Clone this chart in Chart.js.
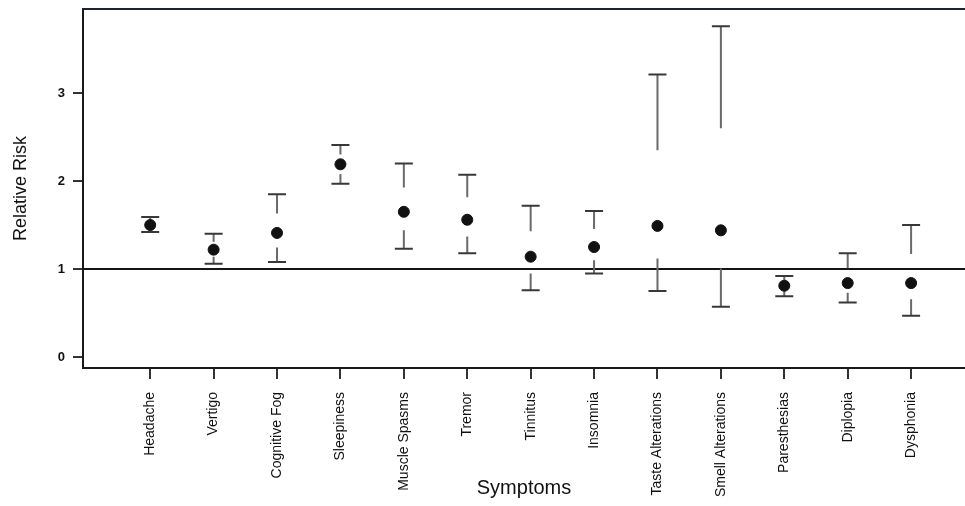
<!DOCTYPE html>
<html>
<head>
<meta charset="utf-8">
<script src="https://cdn.jsdelivr.net/npm/chart.js@4"></script>
<style>
  html, body { margin: 0; background: #fff; }
  #wrap { width: 965px; height: 506px; }
</style>
</head>
<body>
<div id="wrap"><canvas id="rr" width="965" height="506"></canvas></div>
<script>
// Relative risk per symptom, with 95% CI
const SYMPTOMS = ['Headache', 'Vertigo', 'Cognitive Fog', 'Sleepiness', 'Muscle Spasms', 'Tremor',
  'Tinnitus', 'Insomnia', 'Taste Alterations', 'Smell Alterations', 'Paresthesias', 'Diplopia', 'Dysphonia'];
const RR      = [1.50, 1.22, 1.41, 2.19, 1.65, 1.56, 1.14, 1.25, 1.49, 1.44, 0.81, 0.84, 0.84];
const CI_LOW  = [1.42, 1.06, 1.08, 1.97, 1.23, 1.18, 0.76, 0.95, 0.75, 0.57, 0.69, 0.62, 0.47];
const CI_HIGH = [1.59, 1.40, 1.85, 2.41, 2.20, 2.07, 1.72, 1.66, 3.21, 3.76, 0.92, 1.18, 1.50];
const Y_TICKS = [0, 1, 2, 3];
const REF_VALUE = 1;

// error bars: cap + stem running half way back toward the estimate
const ciBars = {
  id: 'ciBars',
  beforeDatasetsDraw(chart) {
    const { ctx, scales: { x, y }, chartArea } = chart;
    ctx.save();
    // reference line at RR = 1
    const yRef = y.getPixelForValue(REF_VALUE);
    ctx.strokeStyle = '#151515';
    ctx.lineWidth = 2;
    ctx.beginPath();
    ctx.moveTo(chartArea.left, yRef);
    ctx.lineTo(chartArea.right, yRef);
    ctx.stroke();

    SYMPTOMS.forEach((_, i) => {
      const px = x.getPixelForValue(i);
      const yMid = y.getPixelForValue(RR[i]);
      const yHi = y.getPixelForValue(CI_HIGH[i]);
      const yLo = y.getPixelForValue(CI_LOW[i]);
      ctx.lineWidth = 2;
      ctx.strokeStyle = '#6a6a6a';
      ctx.beginPath();
      ctx.moveTo(px, yHi); ctx.lineTo(px, (yHi + yMid) / 2);
      ctx.moveTo(px, yLo); ctx.lineTo(px, (yLo + yMid) / 2);
      ctx.stroke();
      ctx.strokeStyle = '#383838';
      ctx.beginPath();
      ctx.moveTo(px - 9, yHi); ctx.lineTo(px + 9, yHi);
      ctx.moveTo(px - 9, yLo); ctx.lineTo(px + 9, yLo);
      ctx.stroke();
    });
    ctx.restore();
  },
  afterDraw(chart) {
    const { ctx, chartArea } = chart;
    ctx.save();
    ctx.strokeStyle = '#1c2230';
    ctx.lineWidth = 2;
    ctx.beginPath();
    ctx.moveTo(chartArea.left, chartArea.top);
    ctx.lineTo(chartArea.right, chartArea.top);
    ctx.stroke();
    ctx.restore();
  }
};

new Chart(document.getElementById('rr'), {
  type: 'scatter',
  data: {
    datasets: [{
      data: SYMPTOMS.map((_, i) => ({ x: i, y: RR[i] })),
      pointRadius: 5.5,
      pointHoverRadius: 5.5,
      backgroundColor: '#111',
      borderColor: '#111',
    }]
  },
  options: {
    responsive: false,
    animation: false,
    layout: { autoPadding: false, padding: { top: 9, right: 0, left: 0, bottom: 0 } },
    plugins: { legend: { display: false }, tooltip: { enabled: false } },
    scales: {
      x: {
        type: 'linear',
        min: -1.06,
        max: 12.85,
        afterBuildTicks: s => { s.ticks = SYMPTOMS.map((_, i) => ({ value: i })); },
        afterFit: s => { s.height = 138; s.paddingLeft = 0; s.paddingRight = 0; },
        ticks: {
          callback: v => SYMPTOMS[v],
          autoSkip: false,
          minRotation: 90,
          maxRotation: 90,
          color: '#111',
          font: { family: 'Liberation Sans, Arial', size: 14 },
          padding: 13,
        },
        grid: { drawOnChartArea: false, tickLength: 11, color: '#333', lineWidth: 2 },
        border: { color: '#1a1a1a', width: 2 },
        title: {
          display: true,
          text: 'Symptoms',
          color: '#111',
          font: { family: 'Liberation Sans, Arial', size: 20 },
          padding: { top: 0, bottom: 6 },
        },
      },
      y: {
        min: -0.125,
        max: 3.955,
        afterBuildTicks: s => { s.ticks = Y_TICKS.map(v => ({ value: v })); },
        afterFit: s => { s.width = 83; s.paddingTop = 0; s.paddingBottom = 0; },
        ticks: {
          color: '#111',
          font: { family: 'Liberation Sans, Arial', size: 13, weight: 'bold' },
          padding: 8,
        },
        grid: { drawOnChartArea: false, tickLength: 10, color: '#333', lineWidth: 2 },
        border: { color: '#1a1a1a', width: 2 },
        title: {
          display: true,
          text: 'Relative Risk',
          color: '#111',
          font: { family: 'Liberation Sans, Arial', size: 18 },
          padding: { top: 10, bottom: 0 },
        },
      },
    },
  },
  plugins: [ciBars],
});
</script>
</body>
</html>
